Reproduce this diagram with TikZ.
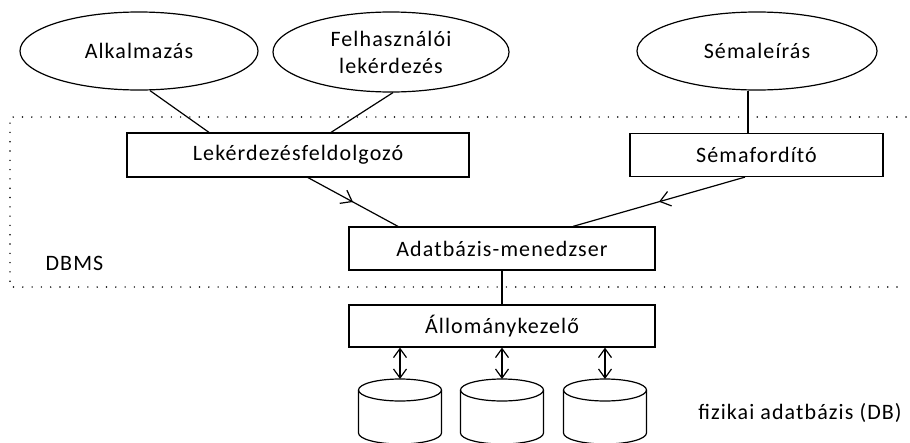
\documentclass[tikz,border=0pt]{standalone}
\usepackage{fontspec}
\setmainfont{Carlito}[LetterSpace=5]
\usetikzlibrary{shapes.geometric,arrows.meta,decorations.markings}
\tikzset{
  lbl/.style={font=\fontsize{22}{27}\selectfont, text=black},
  oval/.style={ellipse, draw, line width=1.2pt, inner sep=0pt, lbl, align=center},
  boxnode/.style={rectangle, draw, line width=1.2pt, inner sep=0pt, lbl},
  conn/.style={line width=1.2pt},
  midarrow/.style={conn, decoration={markings, mark=at position 0.5 with {\arrow{Straight Barb[length=10pt,width=15pt,line width=1.2pt]}}}, postaction={decorate}},
  dbl/.style={conn, {Straight Barb[length=9pt,width=13pt]}-{Straight Barb[length=9pt,width=13pt]}},
  frame/.style={line width=1.6pt, dash pattern=on 0pt off 9.3pt, line cap=round},
  cyl/.style={line width=1.2pt}
}
\begin{document}
\begin{tikzpicture}[x=1pt,y=-1pt]
\useasboundingbox (0,0) rectangle (910,442);
% DBMS frame
\draw[frame] (906,117) -- (10,117) -- (10,287) -- (906,287);
\node[lbl] (dbms) at (74.5,263) {DBMS};
% ellipses
\node[oval, minimum width=238pt, minimum height=78pt] (e1) at (139,51) {Alkalmazás};
\node[oval, minimum width=236pt, minimum height=80pt] (e2) at (391,52) {Felhasználói\\lekérdezés};
\node[oval, minimum width=240pt, minimum height=78pt] (e3) at (757,51) {Sémaleírás};
% boxes
\node[boxnode, minimum width=342pt, minimum height=44pt] (b1) at (298,155) {Lekérdezésfeldolgozó};
\node[boxnode, minimum width=253pt, minimum height=43pt] (b2) at (756.5,155) {Sémafordító};
\node[boxnode, minimum width=306pt, minimum height=43pt] (b3) at (502,248.5) {Adatbázis-menedzser};
\node[boxnode, minimum width=306pt, minimum height=42pt] (b4) at (502,326) {Állománykezelő};
% connectors
\draw[conn] ([xshift=11pt]e1.south) -- ([xshift=-89pt]b1.north);
\draw[conn] ([xshift=2pt]e2.south) -- ([xshift=33pt]b1.north);
\draw[conn] ([xshift=-9pt]e3.south) -- ([xshift=-8.5pt]b2.north);
\draw[midarrow] ([xshift=10pt]b1.south) -- ([xshift=-104pt]b3.north);
\draw[midarrow] ([xshift=-11.5pt]b2.south) -- ([xshift=71pt]b3.north);
\draw[conn] (b3.south) -- (b4.north);
% cylinders
\foreach \cx/\nm in {400/c1,502/c2,605/c3}{
  \draw[cyl] (\cx,390) ellipse [x radius=41.5pt, y radius=11pt];
  \draw[cyl] (\cx-41.5,390) -- (\cx-41.5,433) arc[start angle=180, end angle=360, x radius=41.5pt, y radius=11pt] -- (\cx+41.5,390);
  \coordinate (\nm) at (\cx,379);
}
\draw[dbl] ([xshift=-102pt]b4.south) -- (c1);
\draw[dbl] (b4.south) -- (c2);
\draw[dbl] ([xshift=103pt]b4.south) -- (c3);
\node[lbl] (db) at (800,413) {fizikai adatbázis (DB)};
\end{tikzpicture}
\end{document}
